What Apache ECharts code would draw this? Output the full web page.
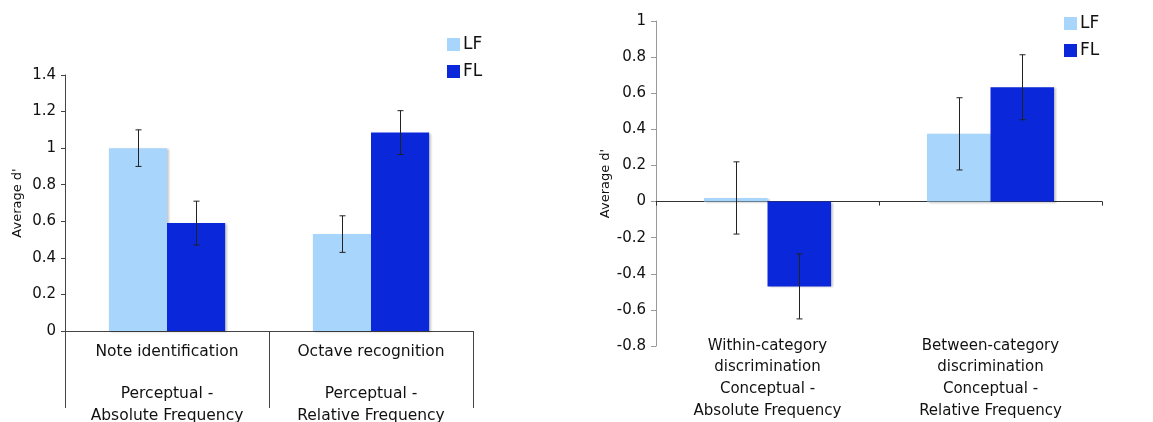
<!DOCTYPE html>
<html>
<head>
<meta charset="utf-8">
<script src="https://cdn.jsdelivr.net/npm/echarts@6/dist/echarts.min.js"></script>
<style>
  html, body { margin: 0; padding: 0; background: #fff; }
  #chart { width: 1153px; height: 422px; }
</style>
</head>
<body>
<div id="chart"></div>
<script>
// Perceptual tasks (left panel)
const perceptualTasks = ["Note identification", "Octave recognition"];
const perceptualDomains = ["Perceptual -\nAbsolute Frequency", "Perceptual -\nRelative Frequency"];
const perceptualLF = [1.00, 0.53];
const perceptualFL = [0.59, 1.085];
const perceptualLFErr = [0.10, 0.10];
const perceptualFLErr = [0.12, 0.12];
const perceptualTicks = { min: 0, max: 1.4, interval: 0.2 };

// Conceptual tasks (right panel)
const conceptualTasks = ["Within-category\ndiscrimination", "Between-category\ndiscrimination"];
const conceptualDomains = ["Conceptual -\nAbsolute Frequency", "Conceptual -\nRelative Frequency"];
const conceptualLF = [0.02, 0.375];
const conceptualFL = [-0.47, 0.633];
const conceptualLFErr = [0.20, 0.20];
const conceptualFLErr = [0.18, 0.18];
const conceptualTicks = { min: -0.8, max: 1, interval: 0.2 };

const groupNames = ["LF", "FL"];

const COLOR_LF = "#a7d5fb";
const COLOR_FL = "#0a27d9";
const FONT = "DejaVu Sans";
const GAP = 0.43;

const leftLabels = perceptualTasks.map((t, i) => t + "\n\n" + perceptualDomains[i]);
const rightLabels = conceptualTasks.map((t, i) => t + "\n" + conceptualDomains[i]);

function errorData(lf, lfErr, fl, flErr) {
  const out = [];
  lf.forEach((v, i) => out.push([i, v, lfErr[i], 0]));
  fl.forEach((v, i) => out.push([i, v, flErr[i], 1]));
  return out;
}

function renderError(params, api) {
  const ci = api.value(0), v = api.value(1), e = api.value(2), si = api.value(3);
  const c = api.coord([ci, v]);
  const catW = api.size([1, 0])[0];
  const bw = catW * (1 - GAP) / 2;
  const x = Math.round(c[0] + (si === 0 ? -bw / 2 : bw / 2)) + 0.5;
  const yt = api.coord([ci, v + e])[1];
  const yb = api.coord([ci, v - e])[1];
  const cap = 3;
  const st = { stroke: "#222", lineWidth: 1 };
  return {
    type: "group",
    children: [
      { type: "line", shape: { x1: x, y1: yt, x2: x, y2: yb }, style: st },
      { type: "line", shape: { x1: x - cap, y1: yt, x2: x + cap, y2: yt }, style: st },
      { type: "line", shape: { x1: x - cap, y1: yb, x2: x + cap, y2: yb }, style: st }
    ]
  };
}

const barShadow = {
  shadowColor: "rgba(0,0,0,0.22)",
  shadowBlur: 2,
  shadowOffsetX: 2,
  shadowOffsetY: 1
};

function barSeries(name, data, color, axisIdx) {
  return {
    name: name,
    type: "bar",
    xAxisIndex: axisIdx,
    yAxisIndex: axisIdx === 0 ? 0 : 1,
    data: data,
    barGap: "0%",
    barCategoryGap: (GAP * 100) + "%",
    itemStyle: Object.assign({ color: color }, barShadow),
    emphasis: { disabled: true },
    z: 2
  };
}

const tickLabel = { color: "#111", fontFamily: FONT, fontSize: 15 };
const legendText = { fontFamily: FONT, fontSize: 17, color: "#111", padding: [0, 0, 0, -2] };

const option = {
  animation: false,
  backgroundColor: "#fff",
  legend: [
    {
      data: groupNames,
      orient: "vertical",
      left: 442, top: 31,
      itemWidth: 13, itemHeight: 13, itemGap: 10,
      icon: "rect",
      textStyle: legendText
    },
    {
      data: groupNames,
      orient: "vertical",
      left: 1059, top: 10,
      itemWidth: 13, itemHeight: 13, itemGap: 10,
      icon: "rect",
      textStyle: legendText
    }
  ],
  grid: [
    { left: 65, right: 680, top: 75, bottom: 91, containLabel: false, outerBoundsMode: "none" },
    { left: 656, right: 51, top: 21, bottom: 76, containLabel: false, outerBoundsMode: "none" }
  ],
  xAxis: [
    {
      gridIndex: 0, type: "category", data: leftLabels, position: "bottom",
      axisLine: { lineStyle: { color: "#444", width: 1 } },
      axisTick: { show: true, length: 77, interval: 0, lineStyle: { color: "#444" } },
      axisLabel: { interval: 0, margin: 10, fontFamily: FONT, fontSize: 15.5, color: "#111", lineHeight: 21.3 },
      splitLine: { show: false }
    },
    {
      gridIndex: 1, type: "category", data: rightLabels, position: "bottom",
      axisLine: { onZero: true, lineStyle: { color: "#333", width: 1 } },
      axisTick: { show: true, length: 4, interval: 0, lineStyle: { color: "#333" } },
      axisLabel: { show: false },
      splitLine: { show: false }
    },
    {
      gridIndex: 1, type: "category", data: rightLabels, position: "bottom",
      axisLine: { show: false, onZero: false },
      axisTick: { show: false },
      axisLabel: { interval: 0, margin: -11, fontFamily: FONT, fontSize: 15, color: "#111", lineHeight: 21.7 },
      splitLine: { show: false }
    }
  ],
  yAxis: [
    {
      gridIndex: 0, type: "value",
      min: perceptualTicks.min, max: perceptualTicks.max, interval: perceptualTicks.interval,
      name: "Average d'", nameLocation: "middle", nameGap: 41,
      nameTextStyle: { fontFamily: FONT, fontSize: 13, color: "#111" },
      axisLine: { show: true, lineStyle: { color: "#444" } },
      axisTick: { show: true, length: 4, lineStyle: { color: "#444" } },
      axisLabel: Object.assign({ margin: 9 }, tickLabel),
      splitLine: { show: false }
    },
    {
      gridIndex: 1, type: "value",
      min: conceptualTicks.min, max: conceptualTicks.max, interval: conceptualTicks.interval,
      name: "Average d'", nameLocation: "middle", nameGap: 44,
      nameTextStyle: { fontFamily: FONT, fontSize: 13, color: "#111" },
      axisLine: { show: true, onZero: false, lineStyle: { color: "#999" } },
      axisTick: { show: true, length: 5, lineStyle: { color: "#999" } },
      axisLabel: Object.assign({ margin: 10 }, tickLabel),
      splitLine: { show: false }
    }
  ],
  series: [
    barSeries("LF", perceptualLF, COLOR_LF, 0),
    barSeries("FL", perceptualFL, COLOR_FL, 0),
    barSeries("LF", conceptualLF, COLOR_LF, 1),
    barSeries("FL", conceptualFL, COLOR_FL, 1),
    {
      type: "custom", xAxisIndex: 0, yAxisIndex: 0, z: 5,
      renderItem: renderError,
      data: errorData(perceptualLF, perceptualLFErr, perceptualFL, perceptualFLErr)
    },
    {
      type: "custom", xAxisIndex: 1, yAxisIndex: 1, z: 5,
      renderItem: renderError,
      data: errorData(conceptualLF, conceptualLFErr, conceptualFL, conceptualFLErr)
    }
  ]
};

const chart = echarts.init(document.getElementById("chart"), null, { renderer: "canvas" });
chart.setOption(option);
</script>
</body>
</html>
